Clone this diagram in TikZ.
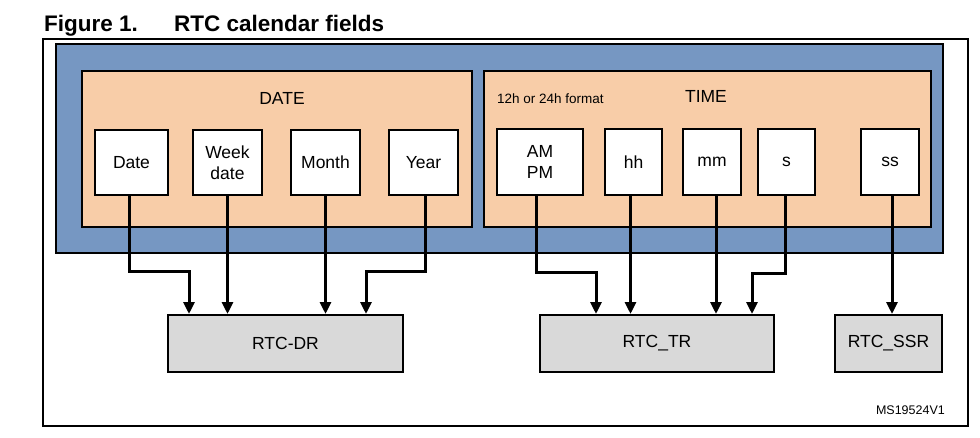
\documentclass[tikz,border=0pt]{standalone}
\usepackage{fontspec}
\setmainfont{Liberation Sans}
\usetikzlibrary{arrows.meta,calc}
\definecolor{outerblue}{RGB}{118,151,194}
\definecolor{groupfill}{RGB}{248,205,168}
\definecolor{regfill}{RGB}{217,217,217}
\begin{document}
\begin{tikzpicture}[x=1pt,y=-1pt,
  lbl/.style={font=\fontsize{17.5}{21}\selectfont},
  field/.style={draw=black,line width=2pt,fill=white,lbl,align=center,inner sep=0pt},
  reg/.style={draw=black,line width=2pt,fill=regfill,lbl,inner sep=0pt},
  conn/.style={line width=3pt,line join=miter,-{Triangle[length=12pt,width=11pt]}}]
\useasboundingbox (0,0) rectangle (980,437);
% heading
\node[anchor=base west,font=\bfseries\fontsize{22.5}{26}\selectfont,inner sep=0pt] (fig) at (44,31) {Figure 1.};
\node[anchor=base west,font=\bfseries\fontsize{22.5}{26}\selectfont,inner sep=0pt] (cap) at (174,31) {RTC calendar fields};
% frame
\draw[line width=1.1pt] (43,39) rectangle (968,426);
% calendar block and its two groups
\draw[line width=2.4pt,fill=outerblue] (56,44) rectangle (943,253);
\draw[line width=2.2pt,fill=groupfill] (82,71) rectangle (472,227);
\draw[line width=2.2pt,fill=groupfill] (484,71) rectangle (931,227);
\node[lbl,anchor=base,inner sep=0pt] (dlabel) at (282,104) {DATE};
\node[lbl,anchor=base,inner sep=0pt] (tlabel) at (706,102) {TIME};
\node[anchor=base west,inner sep=0pt,font=\fontsize{13.5}{16}\selectfont] (fmt) at (497,103) {12h or 24h format};
% date fields
\node[field,minimum width=73,minimum height=65] (fdate)  at (131.5,162.5) {Date};
\node[field,minimum width=69,minimum height=65] (fweek)  at (227.5,162.5) {Week\\date};
\node[field,minimum width=69,minimum height=65] (fmonth) at (325.5,162.5) {Month};
\node[field,minimum width=69,minimum height=65] (fyear)  at (423.5,162.5) {Year};
% time fields
\node[field,minimum width=86,minimum height=66] (fampm) at (540,162) {AM\\PM};
\node[field,minimum width=57,minimum height=66] (fhh)   at (633.5,162) {hh};
\node[field,minimum width=58,minimum height=66] (fmm)   at (712,162) {mm};
\node[field,minimum width=57,minimum height=66] (fs)    at (786.5,162) {s};
\node[field,minimum width=58,minimum height=66] (fss)   at (890,162) {ss};
% registers
\node[reg,minimum width=235,minimum height=57] (rdr)  at (285.5,343.5) {RTC-DR};
\node[reg,minimum width=234,minimum height=57] (rtr)  at (657,343.5) {RTC\_TR};
\node[reg,minimum width=107,minimum height=57] (rssr) at (888.5,343.5) {RTC\_SSR};
\node[anchor=base east,inner sep=0pt,font=\fontsize{12.5}{15}\selectfont] (ref) at (945,414) {MS19524V1};
% start points under the fields
\coordinate (sdate) at ([xshift=-2.5pt]fdate.south);
\coordinate (syear) at ([xshift=2pt]fyear.south);
\coordinate (sampm) at ([xshift=-4pt]fampm.south);
\coordinate (ss)    at ([xshift=-1.5pt]fs.south);
% bends
\coordinate (kdate) at (189,271);
\coordinate (kyear) at (366,271);
\coordinate (kampm) at (596,272);
\coordinate (ks)    at (752,273);
% connectors
\draw[conn] (sdate) -- (sdate |- kdate) -- (kdate) -- (kdate |- rdr.north);
\draw[conn] (fweek.south) -- (fweek.south |- rdr.north);
\draw[conn] (fmonth.south) -- (fmonth.south |- rdr.north);
\draw[conn] (syear) -- (syear |- kyear) -- (kyear) -- (kyear |- rdr.north);
\draw[conn] (sampm) -- (sampm |- kampm) -- (kampm) -- (kampm |- rtr.north);
\draw[conn] ([xshift=-3pt]fhh.south) -- ([xshift=-3pt]fhh.south |- rtr.north);
\draw[conn] ([xshift=4pt]fmm.south) -- ([xshift=4pt]fmm.south |- rtr.north);
\draw[conn] (ss) -- (ss |- ks) -- (ks) -- (ks |- rtr.north);
\draw[conn] ([xshift=2pt]fss.south) -- ([xshift=2pt]fss.south |- rssr.north);
\end{tikzpicture}
\end{document}
